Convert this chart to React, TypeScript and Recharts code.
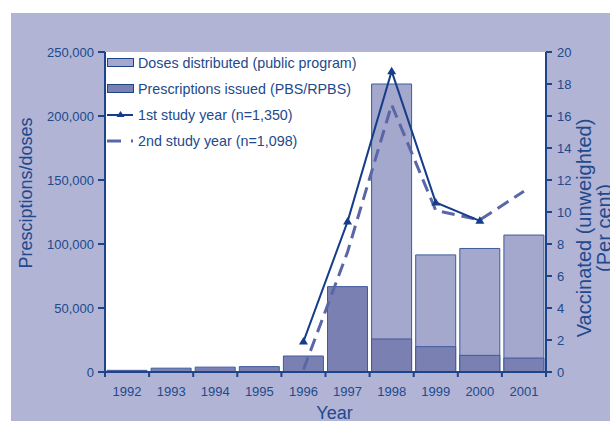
import React from 'react';
import {
  ComposedChart,
  Bar,
  Line,
  XAxis,
  YAxis,
  CartesianGrid,
  Legend,
} from 'recharts';

const years = ['1992', '1993', '1994', '1995', '1996', '1997', '1998', '1999', '2000', '2001'];
const dosesDistributed = [null, null, null, null, null, null, 225000, 91500, 96500, 107000];
const prescriptionsIssued = [1300, 3000, 3800, 4200, 12500, 66700, 25800, 19800, 13000, 10900];
const studyYear1 = [null, null, null, null, 1.9, 9.4, 18.8, 10.6, 9.45, null];
const studyYear2 = [null, null, null, null, 0.15, 7.5, 16.7, 10.1, 9.5, 11.3];
const leftTicks = [0, 50000, 100000, 150000, 200000, 250000];
const rightTicks = [0, 2, 4, 6, 8, 10, 12, 14, 16, 18, 20];
const legendLabels = [
  'Doses distributed (public program)',
  'Prescriptions issued (PBS/RPBS)',
  '1st study year (n=1,350)',
  '2nd study year (n=1,098)',
];
const leftTitle = 'Presciptions/doses';
const rightTitle1 = 'Vaccinated (unweighted)';
const rightTitle2 = '(Per cent)';
const xTitle = 'Year';

const data = years.map((y, i) => ({
  year: y,
  doses: dosesDistributed[i],
  prescriptions: prescriptionsIssued[i],
  s1: studyYear1[i],
  s2: studyYear2[i],
}));

const FONT = '"Liberation Sans", Arial, Helvetica, sans-serif';
const NAVY = '#1d4489';
const TEXT = '#22498c';
const BG = '#b1b4d5';
const LIGHT = '#a3a8cc';
const DARK = '#7a81b2';
const BAR_STROKE = '#3f5a9e';
const LINE1 = '#163d8a';
const LINE2 = '#5a66a6';

const X_TICK_SIZE = 5;
const X_TICK_MARGIN = 10;

const fmt = (v: number) => v.toLocaleString('en-US');

const Triangle = (props: any) => {
  const { cx, cy, index } = props;
  if (cx == null || cy == null) return <g key={`t-${index}`} />;
  return (
    <path
      key={`t-${index}`}
      d={`M${cx},${cy - 4.5} L${cx + 4.5},${cy + 3} L${cx - 4.5},${cy + 3} Z`}
      fill={LINE1}
      stroke="none"
    />
  );
};

const XTick = (props: any) => {
  const { x, y, payload, index, width, visibleTicksCount } = props;
  const count = visibleTicksCount || years.length;
  const half = width / count / 2;
  const axisY = y - X_TICK_SIZE - X_TICK_MARGIN;
  return (
    <g>
      <line x1={x - half} y1={axisY} x2={x - half} y2={axisY + X_TICK_SIZE} stroke={NAVY} strokeWidth={2} />
      {index === count - 1 && (
        <line x1={x + half} y1={axisY} x2={x + half} y2={axisY + X_TICK_SIZE} stroke={NAVY} strokeWidth={2} />
      )}
      <text x={x} y={y} dy="0.71em" textAnchor="middle" fontSize={13} fill={TEXT} fontFamily={FONT}>
        {payload.value}
      </text>
    </g>
  );
};

const LeftTitle = (props: any) => {
  const { x, y } = props.viewBox;
  const cx = x + 25.5;
  const cy = y + 141;
  return (
    <text x={cx} y={cy} transform={`rotate(-90 ${cx} ${cy})`} textAnchor="middle"
      dominantBaseline="central" fontSize={18} fill={TEXT} fontFamily={FONT}>
      {leftTitle}
    </text>
  );
};

const RightTitle = (props: any) => {
  const { x, y } = props.viewBox;
  const cy = y + 176;
  const c1 = x + 38;
  const c2 = x + 58;
  return (
    <g>
      <text x={c1} y={cy} transform={`rotate(-90 ${c1} ${cy})`} textAnchor="middle"
        dominantBaseline="central" fontSize={20} fill={TEXT} fontFamily={FONT}>
        {rightTitle1}
      </text>
      <text x={c2} y={cy} transform={`rotate(-90 ${c2} ${cy})`} textAnchor="middle"
        dominantBaseline="central" fontSize={20} fill={TEXT} fontFamily={FONT}>
        {rightTitle2}
      </text>
    </g>
  );
};

const BottomTitle = (props: any) => {
  const { x, y } = props.viewBox;
  return (
    <text x={x + 229.5} y={y + 47} textAnchor="middle" fontSize={18} fill={TEXT} fontFamily={FONT}>
      {xTitle}
    </text>
  );
};

const LegendIcon = ({ kind }: { kind: number }) => {
  if (kind === 0 || kind === 1) {
    return (
      <svg width={27} height={12} style={{ display: 'block' }}>
        <rect x={0.5} y={1.5} width={26} height={8} fill={kind === 0 ? LIGHT : DARK} stroke={NAVY} strokeWidth={1} />
      </svg>
    );
  }
  if (kind === 2) {
    return (
      <svg width={27} height={12} style={{ display: 'block' }}>
        <line x1={0} y1={6} x2={26} y2={6} stroke={LINE1} strokeWidth={2} />
        <path d="M13.5,2 L17.5,8 L9.5,8 Z" fill={LINE1} />
      </svg>
    );
  }
  return (
    <svg width={27} height={12} style={{ display: 'block' }}>
      <line x1={0} y1={6} x2={26} y2={6} stroke={LINE2} strokeWidth={3} strokeDasharray="14 10" />
    </svg>
  );
};

const LegendBox = () => (
  <div style={{ fontFamily: FONT, fontSize: 14.3, color: TEXT }}>
    {legendLabels.map((label, i) => (
      <div key={label} style={{ display: 'flex', alignItems: 'center', height: 26, whiteSpace: 'nowrap' }}>
        <LegendIcon kind={i} />
        <span style={{ marginLeft: 4, lineHeight: '16px' }}>{label}</span>
      </div>
    ))}
  </div>
);

export default function App() {
  return (
    <div style={{ position: 'absolute', left: 0, top: 0, width: 610, height: 421, overflow: 'hidden', background: '#ffffff' }}>
      <div style={{ position: 'absolute', left: 11, top: 13, right: 0, bottom: 0, background: BG }} />
      <div style={{ position: 'absolute', left: 0, top: 0 }}>
        <ComposedChart
          width={610}
          height={421}
          data={data}
          margin={{ top: 52, right: 0, bottom: 0, left: 0 }}
          barCategoryGap={2}
          style={{ fontFamily: FONT }}
        >
          <CartesianGrid xAxisId="front" yAxisId="left" horizontal={false} vertical={false} fill="#ffffff" stroke="none" />
          <XAxis
            xAxisId="front"
            dataKey="year"
            height={49}
            axisLine={{ stroke: NAVY, strokeWidth: 2 }}
            tickLine={false}
            tickSize={X_TICK_SIZE}
            tickMargin={X_TICK_MARGIN}
            interval={0}
            tick={<XTick />}
            label={<BottomTitle />}
          />
          <XAxis xAxisId="back" dataKey="year" orientation="top" hide />
          <YAxis
            yAxisId="left"
            orientation="left"
            width={105}
            domain={[0, 250000]}
            ticks={leftTicks}
            tickFormatter={fmt}
            tickSize={7}
            tickMargin={4}
            axisLine={{ stroke: NAVY, strokeWidth: 2 }}
            tickLine={{ stroke: NAVY, strokeWidth: 2 }}
            tick={{ fill: TEXT, fontSize: 13, fontFamily: FONT }}
            label={<LeftTitle />}
          />
          <YAxis
            yAxisId="right"
            orientation="right"
            width={64}
            domain={[0, 20]}
            ticks={rightTicks}
            tickSize={6}
            tickMargin={5}
            axisLine={{ stroke: NAVY, strokeWidth: 2 }}
            tickLine={{ stroke: NAVY, strokeWidth: 2 }}
            tick={{ fill: TEXT, fontSize: 13, fontFamily: FONT, textAnchor: 'start' }}
            label={<RightTitle />}
          />
          <Legend
            layout="vertical"
            align="center"
            verticalAlign="middle"
            wrapperStyle={{ left: 107, top: 50, width: 290, height: 104 }}
            content={<LegendBox />}
          />
          <Bar xAxisId="back" yAxisId="left" dataKey="doses" fill={LIGHT} stroke={BAR_STROKE} strokeWidth={1} isAnimationActive={false} />
          <Bar xAxisId="front" yAxisId="left" dataKey="prescriptions" fill={DARK} stroke={BAR_STROKE} strokeWidth={1} isAnimationActive={false} />
          <Line xAxisId="front" yAxisId="right" dataKey="s2" stroke={LINE2} strokeWidth={3} strokeDasharray="13 7" dot={false} activeDot={false} isAnimationActive={false} />
          <Line xAxisId="front" yAxisId="right" dataKey="s1" stroke={LINE1} strokeWidth={2} dot={<Triangle />} activeDot={false} isAnimationActive={false} />
        </ComposedChart>
      </div>
    </div>
  );
}
